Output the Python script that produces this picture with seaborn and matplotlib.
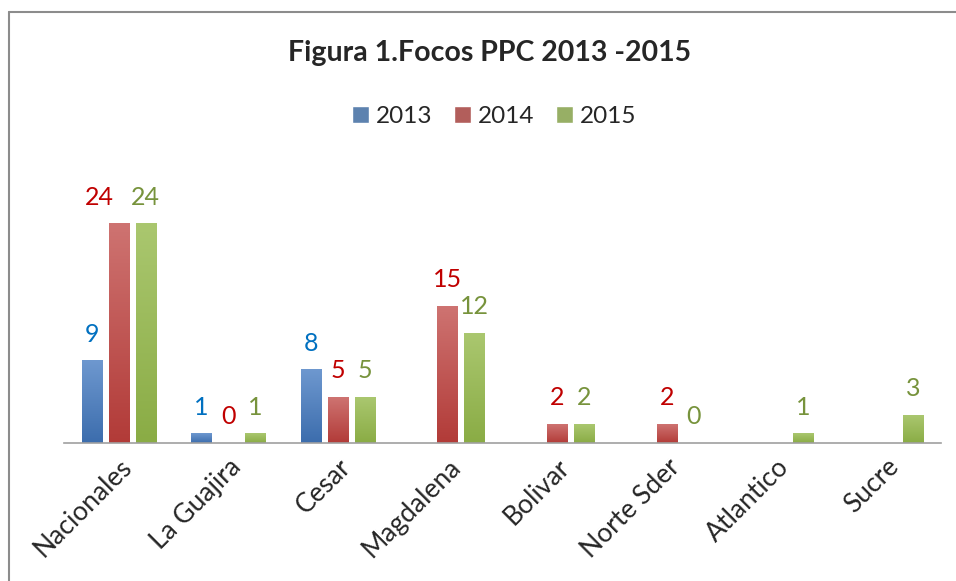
import numpy as np
import pandas as pd
import matplotlib.pyplot as plt
import seaborn as sns
from matplotlib.colors import LinearSegmentedColormap
from matplotlib.lines import Line2D

# data (None = no bar)
categories = ['Nacionales', 'La Guajira', 'Cesar', 'Magdalena',
              'Bolivar', 'Norte Sder', 'Atlantico', 'Sucre']
years = ['2013', '2014', '2015']
v2013 = [9, 1, 8, None, None, None, None, None]
v2014 = [24, 0, 5, 15, 2, 2, None, None]
v2015 = [24, 1, 5, 12, 2, 0, 1, 3]

bar_colors = ['#4F81BD', '#C0504D', '#9BBB59']
grad_top = ['#6E98CF', '#CE7371', '#AAC76F']
grad_bot = ['#3C6DAD', '#B23B38', '#8AAC45']
label_colors = ['#0070C0', '#C00000', '#77933C']

rows = []
for yr, vals in zip(years, [v2013, v2014, v2015]):
    for cat, v in zip(categories, vals):
        rows.append({'Departamento': cat, 'Año': yr, 'Focos': v})
df = pd.DataFrame(rows).dropna()

sns.set_style('white')
plt.rcParams['font.family'] = ['Lato', 'DejaVu Sans']

fig = plt.figure(figsize=(9.56, 5.81), dpi=100)
ax = fig.add_axes([0.067, 0.2375, 0.917, 0.4715])

sns.barplot(data=df, x='Departamento', y='Focos', hue='Año',
            order=categories, hue_order=years, palette=bar_colors,
            width=0.74, gap=0.25, ax=ax, legend=True)

# soft vertical gradient like the original office chart
grad = np.linspace(1, 0, 100).reshape(-1, 1)
label_sets = []
for i, cont in enumerate(ax.containers):
    cmap = LinearSegmentedColormap.from_list('g', [grad_bot[i], grad_top[i]])
    for p in cont:
        x, w, h = p.get_x(), p.get_width(), p.get_height()
        if h > 0:
            ax.imshow(grad, extent=[x, x + w, 0, h], aspect='auto',
                      cmap=cmap, vmin=0, vmax=1, zorder=p.get_zorder() + 0.1)
    label_sets.append(ax.bar_label(cont, fmt='%d', padding=11,
                                   color=label_colors[i], fontsize=18))

# the 2014 label on Nacionales is nudged left so it does not touch the 2015 one
lab = label_sets[1][0]
lab.xyann = (-14, lab.xyann[1])

ax.set_xlim(-0.5, len(categories) - 0.5)
ax.set_ylim(0, 30)
ax.set_xlabel('')
ax.set_ylabel('')
ax.set_yticks([])
ax.tick_params(axis='x', length=0, pad=8)
plt.setp(ax.get_xticklabels(), rotation=45, ha='right',
         rotation_mode='anchor', fontsize=19)
sns.despine(ax=ax, left=True, top=True, right=True)
ax.spines['bottom'].set_color('#A0A0A0')
ax.spines['bottom'].set_linewidth(1.2)

handles, labels = ax.get_legend_handles_labels()
ax.get_legend().remove()
fig.legend(handles, labels, loc='center', bbox_to_anchor=(0.517, 0.8),
           ncol=3, frameon=False, fontsize=17.5, handlelength=0.7,
           handleheight=0.7, handletextpad=0.28, columnspacing=0.9)

fig.text(0.512, 0.908, 'Figura 1.Focos PPC 2013 -2015', ha='center',
         va='center', fontsize=20.5, fontweight='bold')

# chart border (runs off the right and bottom edges)
fig.add_artist(Line2D([9 / 956, 9 / 956], [0, 1 - 12 / 581],
                      color='#8C8C8C', lw=1.5))
fig.add_artist(Line2D([9 / 956, 1], [1 - 12 / 581, 1 - 12 / 581],
                      color='#8C8C8C', lw=1.5))

fig.savefig('out.png', dpi=100)
